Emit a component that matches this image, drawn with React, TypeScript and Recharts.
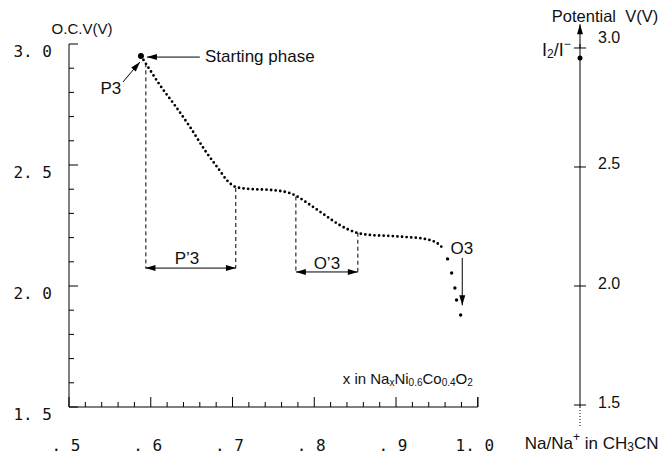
import React from 'react';
import { ComposedChart, Line, Scatter, XAxis, YAxis, ReferenceLine, ReferenceDot } from 'recharts';

// measured curve: x in NaxNi0.6Co0.4O2 vs O.C.V (V)
const curveX = [0.588, 0.599, 0.611, 0.630, 0.648, 0.666, 0.682, 0.694, 0.704, 0.721, 0.746, 0.770, 0.778, 0.795, 0.813, 0.831, 0.853, 0.868, 0.892, 0.913, 0.929, 0.941, 0.950, 0.956];
const curveV = [2.950, 2.893, 2.831, 2.744, 2.657, 2.562, 2.488, 2.434, 2.409, 2.401, 2.397, 2.384, 2.372, 2.335, 2.293, 2.252, 2.219, 2.211, 2.207, 2.202, 2.198, 2.190, 2.178, 2.161];
// last, sparse points of the drop
const dropX = [0.963, 0.968, 0.972, 0.974, 0.979];
const dropV = [2.112, 2.054, 1.992, 1.942, 1.880];
const startPoint = [{ x: 0.588, v: 2.95 }];

const xTicks = Array.from({ length: 26 }, (_, i) => +(0.5 + i * 0.02).toFixed(2));
const xMajor = [0.5, 0.6, 0.7, 0.8, 0.9, 1.0];
const xLabels = ['. 5', '. 6', '. 7', '. 8', '. 9', '1. 0'];
const yTicks = Array.from({ length: 16 }, (_, i) => +(1.5 + i * 0.1).toFixed(1));
const yMajor = [1.5, 2.0, 2.5, 3.0];
const yLabels = ['1. 5', '2. 0', '2. 5', '3. 0'];
const potTicks = [1.5, 2.0, 2.5, 3.0];
const potLabels = ['1.5', '2.0', '2.5', '3.0'];

const X_END = 1.125;
// I2/I- couple on the potential scale
const iodine = [{ x: X_END, v: 2.958 }];

const curve = curveX.map((x, i) => ({ x, v: curveV[i] }));
const drop = dropX.map((x, i) => ({ x, v: dropV[i] }));

const MONO = '"DejaVu Sans Mono", monospace';
const SANS = '"Liberation Sans", Arial, sans-serif';

const near = (a: number, list: number[]) => list.findIndex((b) => Math.abs(a - b) < 1e-6);

const LeftTick = (p: any) => {
  const { x, y, payload } = p;
  const k = near(payload.value, yMajor);
  return (
    <g>
      <line x1={x} x2={x + (k >= 0 ? 9 : 5)} y1={y} y2={y} stroke="#000" />
      {k >= 0 && (
        <text x={x - 17} y={y + 7} textAnchor="end" dominantBaseline="central" fontFamily={MONO} fontSize={16} fill="#111">
          {yLabels[k]}
        </text>
      )}
    </g>
  );
};

const BottomTick = (p: any) => {
  const { x, y, payload } = p;
  const k = near(payload.value, xMajor);
  return (
    <g>
      <line x1={x} x2={x} y1={y} y2={y - (k >= 0 ? 10 : 5)} stroke="#000" />
      {k >= 0 && (
        <text x={x - 3} y={y + 38} textAnchor="middle" dominantBaseline="central" fontFamily={MONO} fontSize={16} fill="#111">
          {xLabels[k]}
        </text>
      )}
    </g>
  );
};

const RightTick = (p: any) => {
  const { x, y, payload } = p;
  const k = near(payload.value, potTicks);
  return (
    <g>
      <line x1={x - 6} x2={x + 6} y1={y} y2={y} stroke="#000" />
      <text x={x + 18} y={y + (k === 3 ? -10 : -3)} dominantBaseline="central" fontFamily={SANS} fontSize={16} fill="#111">
        {potLabels[k]}
      </text>
    </g>
  );
};

const arrow = (double: boolean) => (p: any) => {
  const { x1, y1, x2, y2 } = p;
  const head = (tx: number, ty: number, fx: number, fy: number) => {
    const a = Math.atan2(ty - fy, tx - fx);
    const L = 10, W = 3;
    const bx = tx - L * Math.cos(a), by = ty - L * Math.sin(a);
    const nx = -Math.sin(a) * W, ny = Math.cos(a) * W;
    return <polygon points={`${tx},${ty} ${bx + nx},${by + ny} ${bx - nx},${by - ny}`} fill="#000" />;
  };
  return (
    <g>
      <line x1={x1} y1={y1} x2={x2} y2={y2} stroke="#000" strokeWidth={1} />
      {head(x2, y2, x1, y1)}
      {double && head(x1, y1, x2, y2)}
    </g>
  );
};

const dashed = [
  { x: 0.594, from: 2.92, to: 2.074 },
  { x: 0.704, from: 2.405, to: 2.074 },
  { x: 0.7775, from: 2.37, to: 2.058 },
  { x: 0.8533, from: 2.22, to: 2.058 },
];

const arrows = [
  { a: [0.660, 2.946], b: [0.5953, 2.946], double: false },
  { a: [0.566, 2.843], b: [0.5868, 2.926], double: false },
  { a: [0.981, 2.116], b: [0.981, 1.92], double: false },
  { a: [0.5935, 2.074], b: [0.7042, 2.074], double: true },
  { a: [0.7775, 2.058], b: [0.8533, 2.058], double: true },
];

// text runs: 0 = normal, 1 = subscript, -1 = superscript
const rich = (segs: [string, number][], base: number) => {
  let prev = 0;
  return segs.map(([t, s], i) => {
    const off = s === 1 ? 4 : s === -1 ? -6 : 0;
    const dy = off - prev;
    prev = off;
    return (
      <tspan key={i} dy={dy} fontSize={s ? Math.round(base * 0.68) : base}>
        {t}
      </tspan>
    );
  });
};

const labels: { x: number; y: number; anchor: string; size: number; segs: [string, number][] }[] = [
  { x: 0.5159, y: 3.066, anchor: 'middle', size: 15, segs: [['O.C.V(V)', 0]] },
  { x: 0.6663, y: 2.95, anchor: 'start', size: 17, segs: [['Starting phase', 0]] },
  { x: 0.5513, y: 2.818, anchor: 'middle', size: 17, segs: [['P3', 0]] },
  { x: 0.6443, y: 2.116, anchor: 'middle', size: 17, segs: [['P\u20193', 0]] },
  { x: 0.8154, y: 2.095, anchor: 'middle', size: 17, segs: [['O\u20193', 0]] },
  { x: 0.9804, y: 2.157, anchor: 'middle', size: 17, segs: [['O3', 0]] },
  {
    x: 0.9939, y: 1.62, anchor: 'end', size: 15,
    segs: [['x in Na', 0], ['x', 1], ['Ni', 0], ['0.6', 1], ['Co', 0], ['0.4', 1], ['O', 0], ['2', 1]],
  },
  { x: 1.0905, y: 3.116, anchor: 'start', size: 16.5, segs: [['Potential\u00a0\u00a0V(V)', 0]] },
  {
    x: 1.0575, y: 1.351, anchor: 'start', size: 17,
    segs: [['Na/Na', 0], ['+', -1], ['\u00a0in CH', 0], ['3', 1], ['CN', 0]],
  },
  { x: 1.1137, y: 2.975, anchor: 'end', size: 18, segs: [['I', 0], ['2', 1], ['/I', 0], ['\u2212', -1]] },
];

export default function App() {
  return (
    <div style={{ position: 'absolute', left: 0, top: 0 }}>
      <ComposedChart width={662} height={454} margin={{ top: 44, right: 0, bottom: 0, left: 9 }}>
        <XAxis
          dataKey="x"
          type="number"
          domain={[0.5, X_END]}
          ticks={xTicks}
          interval={0}
          axisLine={false}
          tickLine={false}
          tickSize={0}
          tickMargin={0}
          height={47}
          tick={<BottomTick />}
        />
        <YAxis
          type="number"
          domain={[1.5, 3.0]}
          ticks={yTicks}
          interval={0}
          width={60}
          axisLine={{ stroke: '#000' }}
          tickLine={false}
          tickSize={0}
          tickMargin={0}
          tick={<LeftTick />}
        />
        <YAxis
          yAxisId="r"
          orientation="right"
          type="number"
          domain={[1.4916, 3.0168]}
          ticks={potTicks}
          interval={0}
          width={82}
          axisLine={{ stroke: '#000' }}
          tickLine={false}
          tickSize={0}
          tickMargin={0}
          tick={<RightTick />}
        />

        <ReferenceLine segment={[{ x: 0.5, y: 1.5 }, { x: 1.0, y: 1.5 }]} stroke="#000" ifOverflow="visible" />
        <ReferenceLine segment={[{ x: 1.0, y: 1.5 }, { x: 1.0, y: 1.541 }]} stroke="#000" ifOverflow="visible" />
        <ReferenceLine yAxisId="r" segment={[{ x: X_END, y: 3.0 }, { x: X_END, y: 3.1 }]} ifOverflow="visible" shape={arrow(false)} />
        <ReferenceLine yAxisId="r" segment={[{ x: X_END, y: 1.4916 }, { x: X_END, y: 1.41 }]} stroke="#000" strokeDasharray="1 2" ifOverflow="visible" />

        {dashed.map((d, i) => (
          <ReferenceLine key={'d' + i} segment={[{ x: d.x, y: d.from }, { x: d.x, y: d.to }]} stroke="#000" strokeDasharray="4 3" ifOverflow="visible" />
        ))}
        {arrows.map((a, i) => (
          <ReferenceLine key={'a' + i} segment={[{ x: a.a[0], y: a.a[1] }, { x: a.b[0], y: a.b[1] }]} ifOverflow="visible" shape={arrow(a.double)} />
        ))}

        <Line
          data={curve}
          dataKey="v"
          type="monotone"
          stroke="#000"
          strokeWidth={2.8}
          strokeDasharray="0 4.6"
          strokeLinecap="round"
          dot={false}
          activeDot={false}
          isAnimationActive={false}
        />
        <Scatter data={drop} dataKey="v" isAnimationActive={false} shape={(p: any) => <circle cx={p.cx} cy={p.cy} r={1.7} fill="#000" />} />
        <Scatter data={startPoint} dataKey="v" isAnimationActive={false} shape={(p: any) => <circle cx={p.cx} cy={p.cy} r={3} fill="#000" />} />
        <Scatter yAxisId="r" data={iodine} dataKey="v" isAnimationActive={false} shape={(p: any) => <circle cx={p.cx} cy={p.cy} r={2.5} fill="#000" />} />

        {labels.map((l, i) => (
          <ReferenceDot
            key={'l' + i}
            x={l.x}
            y={l.y}
            r={1}
            ifOverflow="visible"
            shape={(p: any) => (
              <text x={p.cx} y={p.cy} textAnchor={l.anchor as any} dominantBaseline="central" fontFamily={SANS} fontSize={l.size} fill="#111">
                {rich(l.segs, l.size)}
              </text>
            )}
          />
        ))}
      </ComposedChart>
    </div>
  );
}
